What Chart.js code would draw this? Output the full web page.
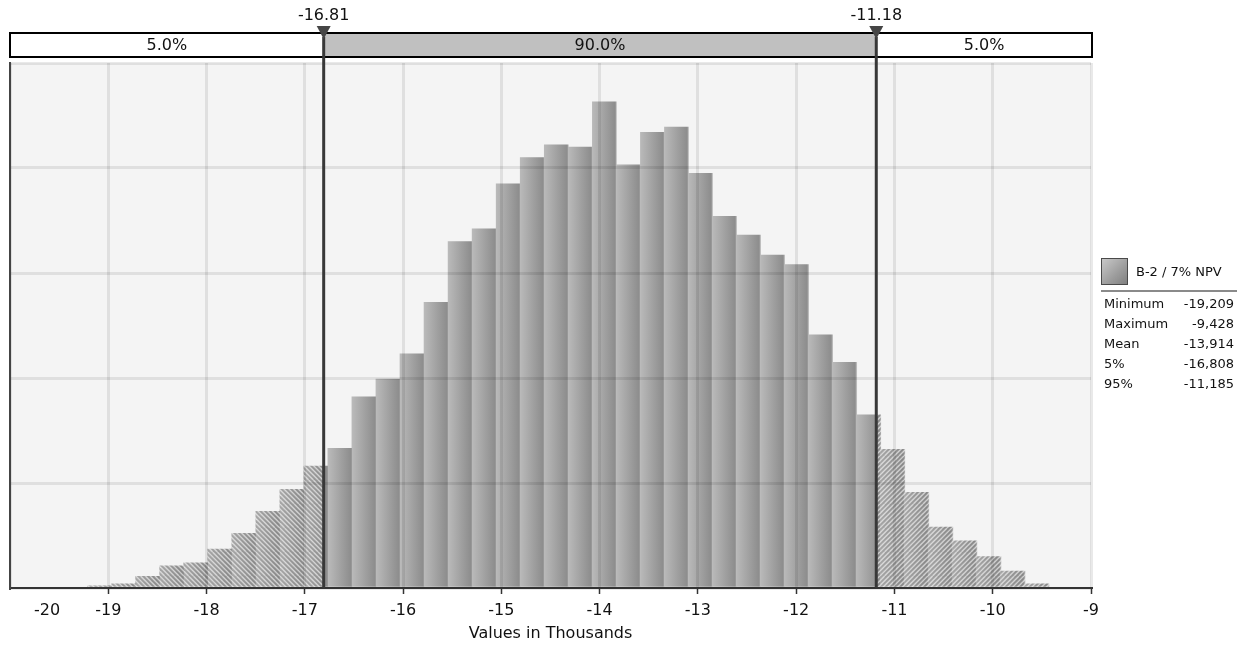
<!DOCTYPE html>
<html>
<head>
<meta charset="utf-8">
<title>B-2 / 7% NPV</title>
<script src="https://cdn.jsdelivr.net/npm/chart.js@4.4.1/dist/chart.umd.min.js"></script>
<style>
    html, body { margin: 0; padding: 0; background: #fff; }
    #wrap { position: relative; width: 1244px; height: 648px; font-family: "DejaVu Sans", sans-serif; color: #111; }
    #npvChart { position: absolute; left: 0; top: 0; }
    #legend { position: absolute; left: 1101px; top: 256px; width: 136px; font-size: 13px; }
    #legend .item { display: flex; align-items: center; height: 30px; }
    #legend .swatch {
        box-sizing: border-box; width: 27px; height: 27px; margin-right: 8px;
        border: 1px solid #4a4a4a;
        background: linear-gradient(135deg, #c8c8c8 0%, #9c9c9c 60%, #808080 100%);
    }
    #legend .rule { margin-top: 4px; height: 2px; background: #8a8a8a; }
    #stats { border-collapse: collapse; width: 100%; margin-top: 2px; }
    #stats td { padding: 0; height: 20px; line-height: 20px; white-space: nowrap; }
    #stats td.k { padding-left: 3px; }
    #stats td.v { text-align: right; padding-right: 3px; }
</style>
</head>
<body>
<div id="wrap">
    <canvas id="npvChart" width="1244" height="648"></canvas>
    <div id="legend">
        <div class="item"><span class="swatch"></span><span id="seriesName"></span></div>
        <div class="rule"></div>
        <table id="stats"></table>
    </div>
</div>
<script>
// ============================================================
// Histograma NPV (valores en miles)
// ============================================================

const seriesName  = 'B-2 / 7% NPV';
const statLabels  = ['Minimum', 'Maximum', 'Mean', '5%', '95%'];
const statValues  = [-19209, -9428, -13914, -16808, -11185];

// 40 clases entre el mínimo y el máximo
const binCount   = 40;
const binHeights = [
    0.02, 0.04, 0.11, 0.21, 0.24, 0.37, 0.52, 0.73, 0.94, 1.16,
    1.33, 1.82, 1.99, 2.23, 2.72, 3.30, 3.42, 3.85, 4.10, 4.22,
    4.20, 4.63, 4.03, 4.34, 4.39, 3.95, 3.54, 3.36, 3.17, 3.08,
    2.41, 2.15, 1.65, 1.32, 0.91, 0.58, 0.45, 0.30, 0.16, 0.04
];

const xTicks       = [-20, -19, -18, -17, -16, -15, -14, -13, -12, -11, -10, -9];
const yMax         = 5;
const markerValues = [-16.808, -11.185];
const markerLabels = ['-16.81', '-11.18'];
const bandLabels   = ['5.0%', '90.0%', '5.0%'];

const X_MIN = xTicks[0];
const X_MAX = xTicks[xTicks.length - 1];
const FONT  = '"DejaVu Sans", sans-serif';

const lo       = statValues[0] / 1000;
const hi       = statValues[1] / 1000;
const binWidth = (hi - lo) / binCount;
const binCenters = binHeights.map((_, i) => lo + binWidth * (i + 0.5));

const binsIn = (a, b) => binCenters
    .map((c, i) => ({ x: c, y: binHeights[i] }))
    .filter(p => p.x + binWidth / 2 > a && p.x - binWidth / 2 < b);

// ---------- rellenos de barra (degradado por clase, rayado en colas) ----------
const fills = {};
function barFill(ctx, kind) {
    const x = ctx.chart.scales.x;
    if (!x || !ctx.chart.chartArea) return '#a0a0a0';
    if (fills[kind]) return fills[kind];
    const x0 = x.getPixelForValue(lo);
    const w  = Math.max(4, Math.round(x.getPixelForValue(lo + binWidth) - x0));
    const tile = document.createElement('canvas');
    tile.width = w; tile.height = w;
    const g = tile.getContext('2d');
    const grad = g.createLinearGradient(0, 0, w, 0);
    if (kind === 'solid') {
        grad.addColorStop(0, '#bbbbbb');
        grad.addColorStop(1, '#8c8c8c');
    } else {
        grad.addColorStop(0, '#a6a6a6');
        grad.addColorStop(1, '#858585');
    }
    g.fillStyle = grad;
    g.fillRect(0, 0, w, w);
    if (kind !== 'solid') {
        const step = w / 5;
        g.strokeStyle = 'rgba(255,255,255,0.72)';
        g.lineWidth = 1.2;
        for (let k = -w; k <= 2 * w; k += step) {
            g.beginPath();
            if (kind === 'left') { g.moveTo(k, 0); g.lineTo(k + w, w); }
            else                 { g.moveTo(k, w); g.lineTo(k + w, 0); }
            g.stroke();
        }
    }
    const pat = ctx.chart.ctx.createPattern(tile, 'repeat');
    pat.setTransform(new DOMMatrix([1, 0, 0, 1, x0, 0]));
    fills[kind] = pat;
    return pat;
}

// ---------- plugins ----------
const plotBackground = {
    id: 'plotBackground',
    beforeDraw(chart) {
        const { ctx, chartArea: a } = chart;
        ctx.save();
        ctx.fillStyle = '#f4f4f4';
        ctx.fillRect(a.left, a.top, a.right - a.left, a.bottom - a.top);
        ctx.restore();
    }
};

const rangeClip = {
    id: 'rangeClip',
    beforeDatasetDraw(chart, args) {
        const ds = chart.data.datasets[args.index];
        const { ctx, chartArea: a } = chart;
        const x = chart.scales.x;
        const l = x.getPixelForValue(ds.clipRange[0]);
        const r = x.getPixelForValue(ds.clipRange[1]);
        ctx.save();
        ctx.beginPath();
        ctx.rect(l, a.top - 2, r - l, a.bottom - a.top + 4);
        ctx.clip();
    },
    afterDatasetDraw(chart) {
        chart.ctx.restore();
    }
};

const percentBand = {
    id: 'percentBand',
    afterDraw(chart) {
        const { ctx, chartArea: a } = chart;
        const x = chart.scales.x;
        const m = markerValues.map(v => x.getPixelForValue(v));
        const top = a.top - 30, bottom = a.top - 6;
        const segs = [[a.left, m[0]], [m[0], m[1]], [m[1], a.right + 1]];
        ctx.save();

        // banda de porcentajes
        segs.forEach((s, i) => {
            ctx.fillStyle = i === 1 ? '#c0c0c0' : '#ffffff';
            ctx.fillRect(s[0], top, s[1] - s[0], bottom - top);
        });
        ctx.strokeStyle = '#000';
        ctx.lineWidth = 2;
        ctx.strokeRect(a.left, top, a.right + 1 - a.left, bottom - top);
        ctx.font = '16px ' + FONT;
        ctx.fillStyle = '#111';
        ctx.textAlign = 'center';
        ctx.textBaseline = 'middle';
        segs.forEach((s, i) => ctx.fillText(bandLabels[i], (s[0] + s[1]) / 2, (top + bottom) / 2 + 1));

        // líneas de percentiles
        m.forEach((px, i) => {
            ctx.strokeStyle = '#383838';
            ctx.lineWidth = 3;
            ctx.beginPath();
            ctx.moveTo(px, top + 4);
            ctx.lineTo(px, a.bottom);
            ctx.stroke();
            ctx.fillStyle = '#454545';
            ctx.beginPath();
            ctx.moveTo(px - 7, top - 7);
            ctx.lineTo(px + 7, top - 7);
            ctx.lineTo(px, top + 6);
            ctx.closePath();
            ctx.fill();
            ctx.fillStyle = '#111';
            ctx.fillText(markerLabels[i], px, top - 17);
        });

        // primera etiqueta del eje, desplazada hacia dentro
        ctx.textBaseline = 'middle';
        ctx.fillText(String(X_MIN), x.getPixelForValue(X_MIN) + 37,
            x.top + x.options.grid.tickLength + x.options.ticks.padding + 10);
        ctx.restore();
    }
};

// ---------- gráfico ----------
const ctx = document.getElementById('npvChart').getContext('2d');
new Chart(ctx, {
    type: 'bar',
    data: {
        datasets: [
            { data: binsIn(X_MIN, markerValues[0]), clipRange: [X_MIN, markerValues[0]], backgroundColor: c => barFill(c, 'left') },
            { data: binsIn(markerValues[0], markerValues[1]), clipRange: markerValues, backgroundColor: c => barFill(c, 'solid') },
            { data: binsIn(markerValues[1], X_MAX), clipRange: [markerValues[1], X_MAX], backgroundColor: c => barFill(c, 'right') }
        ]
    },
    options: {
        responsive: false,
        animation: false,
        devicePixelRatio: 1,
        grouped: false,
        barPercentage: 1,
        categoryPercentage: 1,
        borderWidth: 0,
        layout: { padding: { left: 10, right: 153, top: 63, bottom: 0 } },
        plugins: { legend: { display: false }, tooltip: { enabled: false } },
        scales: {
            x: {
                type: 'linear',
                min: X_MIN,
                max: X_MAX,
                offset: false,
                afterBuildTicks: s => { s.ticks = xTicks.map(v => ({ value: v })); },
                afterFit: s => { s.height = 60; },
                grid: {
                    offset: false,
                    z: 1,
                    color: 'rgba(0,0,0,0.085)',
                    lineWidth: 3,
                    tickLength: 6,
                    tickWidth: 1.5,
                    tickColor: c => (c.tick && c.tick.value === X_MIN) ? 'rgba(0,0,0,0)' : '#333'
                },
                border: { display: true, color: '#333', width: 2, z: 2 },
                ticks: {
                    autoSkip: false,
                    maxRotation: 0,
                    padding: 7,
                    color: '#111',
                    font: { family: FONT, size: 16 },
                    callback: v => v === X_MIN ? '' : String(v)
                },
                title: {
                    display: true,
                    text: 'Values in Thousands',
                    color: '#111',
                    font: { family: FONT, size: 16 },
                    padding: { top: 0, bottom: 5 }
                }
            },
            y: {
                min: 0,
                max: yMax,
                afterFit: s => { s.width = 0; },
                ticks: { display: false, stepSize: 1 },
                grid: { z: 1, color: 'rgba(0,0,0,0.085)', lineWidth: 3, drawTicks: false },
                border: { display: true, color: '#444', width: 2, z: 2 }
            }
        }
    },
    plugins: [plotBackground, rangeClip, percentBand]
});

// ---------- leyenda y estadísticas ----------
document.getElementById('seriesName').textContent = seriesName;
document.getElementById('stats').innerHTML = statLabels.map((k, i) =>
    `<tr><td class="k">${k}</td><td class="v">${statValues[i].toLocaleString('en-US')}</td></tr>`
).join('');
</script>
</body>
</html>
